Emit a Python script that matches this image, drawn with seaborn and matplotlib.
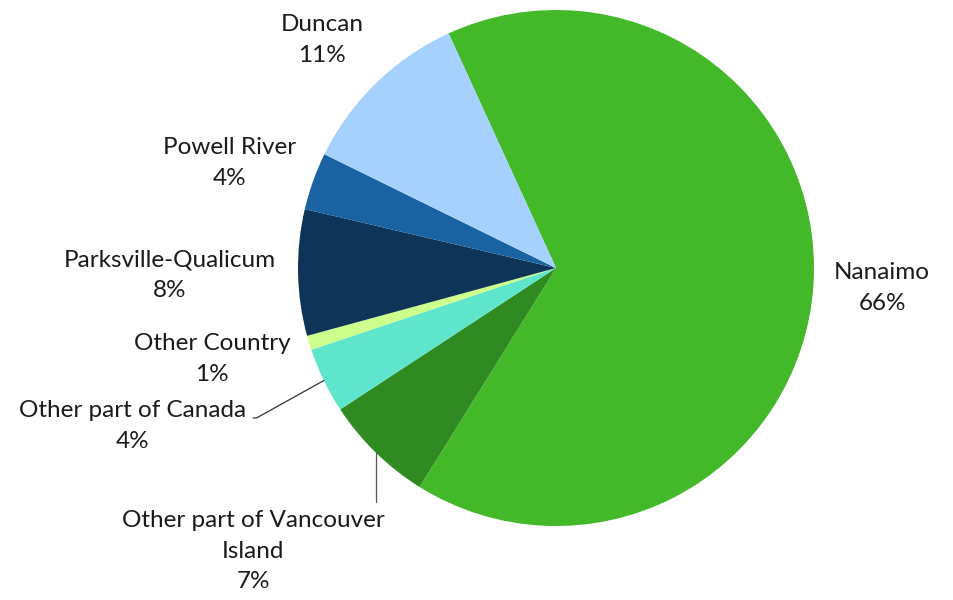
import numpy as np
import matplotlib
matplotlib.use("Agg")
import matplotlib.pyplot as plt
import seaborn as sns

# slices, clockwise from the Duncan/Nanaimo edge
regions = ["Nanaimo", "Other part of Vancouver\nIsland", "Other part of Canada",
           "Other Country", "Parksville-Qualicum", "Powell River", "Duncan"]
shares = [65.7, 6.9, 4.1, 0.9, 7.9, 3.6, 10.9]
colors = ["#43B929", "#2F8A22", "#5EE5CC", "#CCFF8C", "#0E3457", "#1A63A3", "#A6D1FF"]

# label centres (data units, pie radius = 1)
label_pos = [(1.264, -0.078), (-1.174, -1.097), (-1.640, -0.612), (-1.333, -0.353),
             (-1.496, -0.027), (-1.267, 0.407), (-0.907, 0.884)]

sns.set_style("white")
plt.rcParams["font.family"] = ["Lato", "DejaVu Sans"]

fig = plt.figure(figsize=(9.54, 6.0), dpi=100)
ax = fig.add_axes([0, 0, 1, 1])

wedges, _ = ax.pie(shares, colors=colors, startangle=114.6, counterclock=False,
                   radius=1.0, wedgeprops=dict(linewidth=0))

for w, name, val, (lx, ly) in zip(wedges, regions, shares, label_pos):
    ax.text(lx, ly, f"{name}\n{val:.0f}%", ha="center", va="center",
            fontsize=17.5, color="#1a1a1a", linespacing=1.55)

# leader lines
def mid(w):
    a = np.deg2rad((w.theta1 + w.theta2) / 2)
    return np.cos(a), np.sin(a)

mx, my = mid(wedges[2])
ax.plot([-1.174, -1.160, mx], [-0.581, -0.581, my], color="#333333", lw=0.9)
mx, my = mid(wedges[1])
ax.plot([mx, mx], [my, -0.907], color="#555555", lw=0.9)

ax.set_xlim(-556 / 258, 398 / 258)
ax.set_ylim(-332 / 258, 268 / 258)
ax.set_aspect("equal")
ax.axis("off")

fig.savefig("out.png", dpi=100)
